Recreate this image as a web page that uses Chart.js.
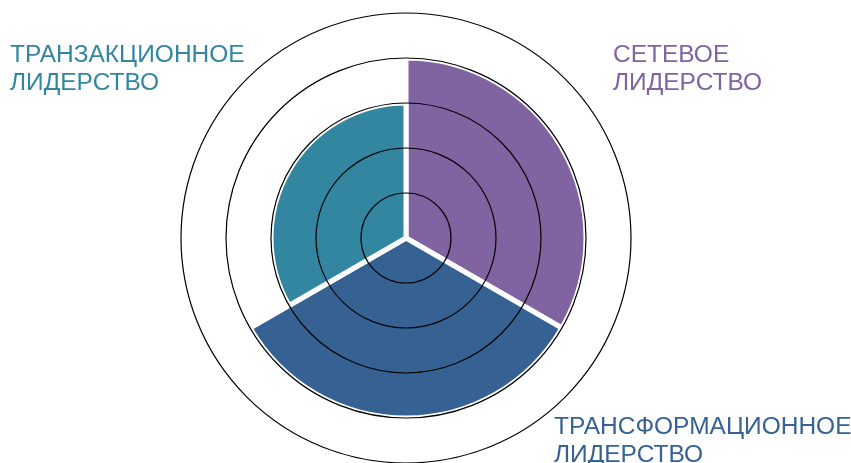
<!DOCTYPE html>
<html>
<head>
<meta charset="utf-8">
<script src="https://cdn.jsdelivr.net/npm/chart.js@4/dist/chart.umd.min.js"></script>
<style>
html,body{margin:0;padding:0;background:#fff;}
#wrap{position:relative;width:851px;height:463px;}
</style>
</head>
<body>
<div id="wrap"><canvas id="c" width="851" height="463"></canvas></div>
<script>
const categories = [
  ['СЕТЕВОЕ', 'ЛИДЕРСТВО'],
  ['ТРАНСФОРМАЦИОННОЕ', 'ЛИДЕРСТВО'],
  ['ТРАНЗАКЦИОННОЕ', 'ЛИДЕРСТВО']
];
const values = [4, 4, 3];
const colors = ['#8064A2', '#366293', '#3286A0'];
const scaleMax = 5;
const labelPositions = [
  {x: 613, y: 62},
  {x: 554, y: 434},
  {x: 10, y: 62}
];

const labelPlugin = {
  id: 'cornerLabels',
  afterDraw(chart) {
    const ctx = chart.ctx;
    ctx.save();
    ctx.font = '24.5px "Liberation Sans", Arial, sans-serif';
    ctx.textBaseline = 'alphabetic';
    ctx.textAlign = 'left';
    categories.forEach((lines, i) => {
      ctx.fillStyle = colors[i];
      lines.forEach((t, j) => ctx.fillText(t, labelPositions[i].x, labelPositions[i].y + j * 28));
    });
    ctx.restore();
  }
};

new Chart(document.getElementById('c'), {
  type: 'polarArea',
  data: {
    labels: categories.map(l => l.join(' ')),
    datasets: [{
      data: values,
      backgroundColor: colors,
      borderColor: '#ffffff',
      borderWidth: 5
    }]
  },
  options: {
    responsive: false,
    animation: false,
    layout: { padding: { left: 0, right: 39, top: 13, bottom: 0 } },
    plugins: { legend: { display: false }, tooltip: { enabled: false } },
    scales: {
      r: {
        min: 0,
        max: scaleMax,
        ticks: { display: false, stepSize: 1 },
        grid: { color: '#000000', lineWidth: 1.2, z: 1 },
        angleLines: { display: false },
        pointLabels: { display: false }
      }
    }
  },
  plugins: [labelPlugin]
});
</script>
</body>
</html>
